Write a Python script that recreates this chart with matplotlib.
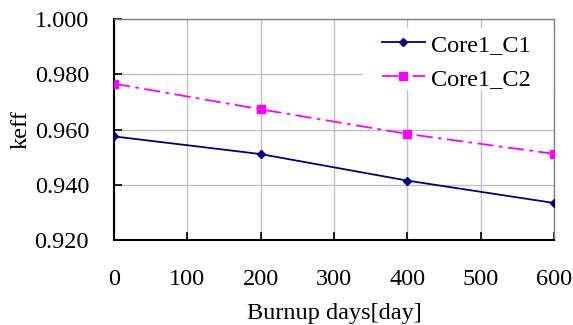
"""
keff versus burnup days for the two core configurations.
"""

import matplotlib
matplotlib.use("Agg")
import matplotlib.pyplot as plt
from matplotlib.patches import Rectangle

# =========================================================================
#  Data
# =========================================================================
vDays = [0, 200, 400, 600]
vKeffC1 = [0.9575, 0.9511, 0.9415, 0.9334]
vKeffC2 = [0.9766, 0.9673, 0.9584, 0.9512]
cSeriesNames = ["Core1_C1", "Core1_C2"]

vXTicks = [0, 100, 200, 300, 400, 500, 600]
vYTicks = [0.920, 0.940, 0.960, 0.980, 1.000]

# =========================================================================
#  Figure
# =========================================================================
plt.rcParams["font.family"] = ["Liberation Serif", "DejaVu Serif"]
dFont = 17.5

fig = plt.figure(figsize=(5.73, 3.25), dpi=100)
ax = fig.add_axes([114 / 573, 1 - 240 / 325, 440 / 573, 221 / 325])

ax.plot(vDays, vKeffC1, color="#000080", lw=1.3, marker="D", ms=4.5,
        label=cSeriesNames[0], zorder=3)
ax.plot(vDays, vKeffC2, color="#FF00FF", lw=1.3, ls=(0, (9, 3, 2, 3)),
        marker="s", ms=5.2, label=cSeriesNames[1], zorder=3)

ax.set_xlim(0, 600)
ax.set_ylim(0.92, 1.0)
ax.set_xticks(vXTicks)
ax.set_yticks(vYTicks)
ax.set_yticklabels([f"{v:.3f}" for v in vYTicks])
ax.tick_params(direction="in", length=5.5, width=1.2, labelsize=dFont, colors="black")
ax.tick_params(axis="x", pad=21)
ax.tick_params(axis="y", pad=18)

ax.grid(True, color="#c0c0c0", lw=1.0)
ax.set_axisbelow(True)

for s in ("left", "bottom"):
    ax.spines[s].set_color("black")
    ax.spines[s].set_linewidth(1.5)
for s in ("top", "right"):
    ax.spines[s].set_color("#808080")
    ax.spines[s].set_linewidth(1.0)

ax.set_xlabel("Burnup days[day]", fontsize=dFont, labelpad=9)
ax.set_ylabel("keff", fontsize=dFont, labelpad=2)

# white legend area that hides the grid behind the legend (no frame)
ax.add_patch(Rectangle((0.566, 0.679), 0.434, 0.28, transform=ax.transAxes,
                       facecolor="white", edgecolor="none", zorder=1))

leg = ax.legend(loc="upper right", bbox_to_anchor=(0.948, 0.933),
                fontsize=dFont, frameon=False, handlelength=1.8,
                handletextpad=0.25, labelspacing=0.5, borderpad=0,
                borderaxespad=0)

fig.savefig("out.png", dpi=100)
